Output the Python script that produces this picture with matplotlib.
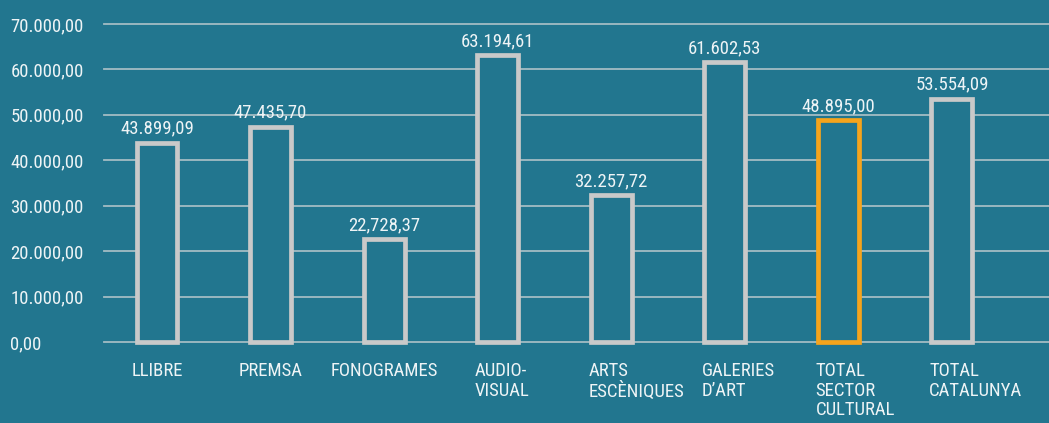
import matplotlib
matplotlib.use("Agg")
import matplotlib.pyplot as plt

categories = ["LLIBRE", "PREMSA", "FONOGRAMES", "AUDIO-\nVISUAL", "ARTS\nESCÈNIQUES",
              "GALERIES\nD\u2019ART", "TOTAL\nSECTOR\nCULTURAL", "TOTAL\nCATALUNYA"]
values = [43899.09, 47435.70, 22728.37, 63194.61, 32257.72, 61602.53, 48895.00, 53554.09]
value_labels = ["43.899,09", "47.435,70", "22,728,37", "63.194,61", "32.257,72",
                "61.602,53", "48.895,00", "53.554,09"]
yticks = [0, 10000, 20000, 30000, 40000, 50000, 60000, 70000]
ytick_labels = ["0,00", "10.000,00", "20.000,00", "30.000,00", "40.000,00",
                "50.000,00", "60.000,00", "70.000,00"]
highlight = 6

BG = "#22768f"
GRID = "#a3bcc4"
EDGE = "#c9c9c9"
ORANGE = "#f5a41c"
TXT = "#eef4f6"

plt.rcParams['font.family'] = ['Roboto Condensed', 'DejaVu Sans']

fig = plt.figure(figsize=(10.49, 4.23), dpi=100, facecolor=BG)
ax = fig.add_axes([104/1049, (423-342)/423, 1-104/1049, (342-24)/423])
ax.set_facecolor(BG)
for s in ax.spines.values():
    s.set_visible(False)

ax.set_xlim(-0.467, 7.855)
ax.set_ylim(0, 70000)

for t in yticks:
    ax.axhline(t, color=GRID, lw=1.3, zorder=1, clip_on=False)

w = 0.36
for i, v in enumerate(values):
    ec = ORANGE if i == highlight else EDGE
    ax.bar(i, v, width=w, facecolor=BG, edgecolor=ec, linewidth=3.4, zorder=3, clip_on=False)
    ax.annotate(value_labels[i], (i, v), xytext=(0, 3.5), textcoords="offset points",
                ha="center", va="bottom", color=TXT, fontsize=13.5)

ax.set_xticks([])
ax.set_yticks(yticks)
ax.set_yticklabels(ytick_labels, color=TXT, fontsize=13.5)
ax.tick_params(axis="y", length=0, pad=67.5)
for lab in ax.get_yticklabels():
    lab.set_horizontalalignment("left")

for i, c in enumerate(categories):
    if "\n" in c:
        ax.annotate(c, (i - w/2 - 0.02, 0), xycoords="data", xytext=(0, -14.5),
                    textcoords="offset points", ha="left", va="top", color=TXT,
                    fontsize=13.5, linespacing=1.12)
    else:
        ax.annotate(c, (i, 0), xycoords="data", xytext=(0, -14.5),
                    textcoords="offset points", ha="center", va="top", color=TXT,
                    fontsize=13.5)

fig.savefig("out.png", dpi=100, facecolor=BG)
